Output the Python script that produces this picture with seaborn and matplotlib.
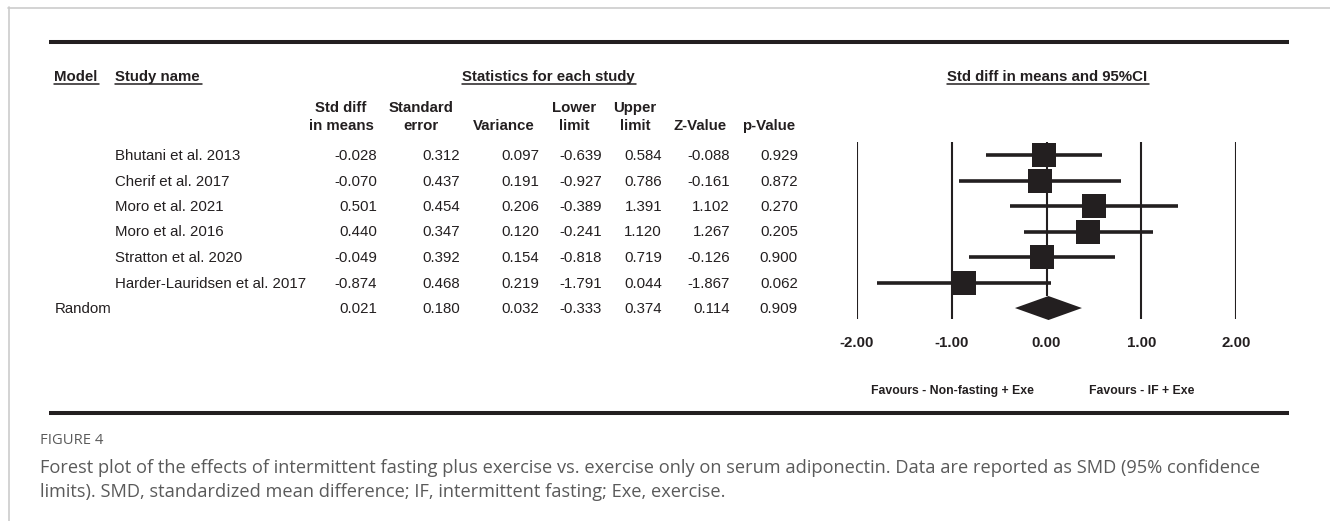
import numpy as np
import pandas as pd
import seaborn as sns
import matplotlib
matplotlib.use("Agg")
import matplotlib.pyplot as plt
from matplotlib.lines import Line2D

# ---------------- data ----------------
studies = ["Bhutani et al. 2013", "Cherif et al. 2017", "Moro et al. 2021",
           "Moro et al. 2016", "Stratton et al. 2020", "Harder-Lauridsen et al. 2017"]
std_diff = [-0.028, -0.070, 0.501, 0.440, -0.049, -0.874]
std_err = [0.312, 0.437, 0.454, 0.347, 0.392, 0.468]
variance = [0.097, 0.191, 0.206, 0.120, 0.154, 0.219]
lower_limit = [-0.639, -0.927, -0.389, -0.241, -0.818, -1.791]
upper_limit = [0.584, 0.786, 1.391, 1.120, 0.719, 0.044]
z_value = [-0.088, -0.161, 1.102, 1.267, -0.126, -1.867]
p_value = [0.929, 0.872, 0.270, 0.205, 0.900, 0.062]

random_label = "Random"
random_stats = [0.021, 0.180, 0.032, -0.333, 0.374, 0.114, 0.909]  # smd, se, var, lo, up, z, p

tick_values = [-2, -1, 0, 1, 2]
tick_labels = ["-2.00", "-1.00", "0.00", "1.00", "2.00"]

col_headers = [("Std diff", "in means"), ("Standard", "error"), ("", "Variance"),
               ("Lower", "limit"), ("Upper", "limit"), ("", "Z-Value"), ("", "p-Value")]

caption_title = "FIGURE 4"
caption_lines = [
    "Forest plot of the effects of intermittent fasting plus exercise vs. exercise only on serum adiponectin. Data are reported as SMD (95% confidence",
    "limits). SMD, standardized mean difference; IF, intermittent fasting; Exe, exercise.",
]

# ---------------- style ----------------
sns.set_theme(style="white")
plt.rcParams["font.family"] = ["Liberation Sans", "DejaVu Sans"]
ink = "#231f20"

W, H = 1330, 521
fig = plt.figure(figsize=(W / 100, H / 100), dpi=100)
fig.patch.set_facecolor("white")

def fx(x):
    return x / W

def fy(y):
    return 1 - y / H

FS = 10.8  # ~15 px

# gray frame (top + left)
fig.add_artist(Line2D([fx(8), 1.0], [fy(7.5), fy(7.5)], color="#cccccc", lw=1.2))
fig.add_artist(Line2D([fx(8.5), fx(8.5)], [fy(7), 0.0], color="#cccccc", lw=1.2))

# thick rules
for yy in (42, 413):
    fig.add_artist(Line2D([fx(49), fx(1289)], [fy(yy), fy(yy)], color=ink, lw=2.9,
                          solid_capstyle="butt"))

# ---------------- header ----------------
hdr_kw = dict(fontsize=FS, fontweight="bold", color=ink, va="baseline")
h_model = fig.text(fx(54), fy(81), "Model", ha="left", **hdr_kw)
h_study = fig.text(fx(115), fy(81), "Study name", ha="left", **hdr_kw)
h_stats = fig.text(fx(548), fy(81), "Statistics for each study", ha="center", **hdr_kw)
h_forest = fig.text(fx(1047), fy(81), "Std diff in means and 95%CI", ha="center", **hdr_kw)

col_centers = [341, 421, 504, 574, 635, 700, 769]
col_rights = [377, 460, 539, 602, 662, 730, 798]
for (l1, l2), cx in zip(col_headers, col_centers):
    if l1:
        fig.text(fx(cx), fy(111.7), l1, ha="center", **hdr_kw)
    fig.text(fx(cx), fy(130), l2, ha="center", **hdr_kw)

# ---------------- table rows ----------------
row_baselines = [160, 185.5, 211, 236.5, 262, 287.5, 313]
txt_kw = dict(fontsize=FS, color=ink, va="baseline")
columns = [std_diff, std_err, variance, lower_limit, upper_limit, z_value, p_value]
for i, name in enumerate(studies):
    fig.text(fx(115), fy(row_baselines[i]), name, ha="left", **txt_kw)
    for col, rx in zip(columns, col_rights):
        fig.text(fx(rx), fy(row_baselines[i]), f"{col[i]:.3f}", ha="right", **txt_kw)
fig.text(fx(55), fy(row_baselines[6]), random_label, ha="left", **txt_kw)
for val, rx in zip(random_stats, col_rights):
    fig.text(fx(rx), fy(row_baselines[6]), f"{val:.3f}", ha="right", **txt_kw)

# ---------------- forest plot ----------------
ax = fig.add_axes([fx(857), fy(319), (1236 - 857) / W, (319 - 142) / H])
ax.patch.set_alpha(0)
df = pd.DataFrame({"study": studies, "smd": std_diff, "lower": lower_limit,
                   "upper": upper_limit, "row": np.arange(len(studies))})
ax.hlines(df["row"], df["lower"], df["upper"], color=ink, lw=2.6, zorder=2)
sns.scatterplot(data=df, x="smd", y="row", marker="s", s=(23.5 * 0.72) ** 2,
                color=ink, linewidth=0, ax=ax, zorder=3, legend=False)

r_row = len(studies)
h = 0.47
ax.fill([random_stats[3], random_stats[0], random_stats[4], random_stats[0]],
        [r_row, r_row - h, r_row, r_row + h], color=ink, lw=0, zorder=3, clip_on=False)

ytop, ybot = -0.51, 6.43
for v in tick_values:
    if v != 0:
        ax.axvline(v, color=ink, lw=1.5, zorder=1)
ax.vlines(0, ytop, r_row - h, color=ink, lw=1.5, zorder=1)

ax.set_xlim(tick_values[0], tick_values[-1])
ax.set_ylim(ybot, ytop)
ax.set_yticks([])
ax.set_xticks(tick_values)
ax.set_xticklabels(tick_labels, fontweight="bold", fontsize=FS, color=ink)
ax.tick_params(axis="x", length=0, pad=12)
ax.set_xlabel("")
ax.set_ylabel("")
for s in ax.spines.values():
    s.set_visible(False)

fav_kw = dict(fontsize=8.8, fontweight="bold", color=ink, va="baseline", ha="center")
fig.text(fx(952), fy(394), "Favours - Non-fasting + Exe", **fav_kw)
fig.text(fx(1142), fy(394), "Favours - IF + Exe", **fav_kw)

# ---------------- caption ----------------
cap_kw = dict(color="#5a5a5a", va="baseline", ha="left", family=["Open Sans", "DejaVu Sans"])
fig.text(fx(40), fy(444), caption_title, fontsize=10.6, **cap_kw)
fig.text(fx(40), fy(473), caption_lines[0], fontsize=13.15, **cap_kw)
fig.text(fx(40), fy(497), caption_lines[1], fontsize=13.15, **cap_kw)

# ---------------- underlines ----------------
fig.canvas.draw()
renderer = fig.canvas.get_renderer()
for t in (h_model, h_study, h_stats, h_forest):
    bb = t.get_window_extent(renderer)
    x0 = bb.x0 / W
    x1 = (bb.x1 + 2) / W
    fig.add_artist(Line2D([x0, x1], [fy(84), fy(84)], color=ink, lw=1.1))

fig.savefig("out.png", dpi=100, facecolor="white")
